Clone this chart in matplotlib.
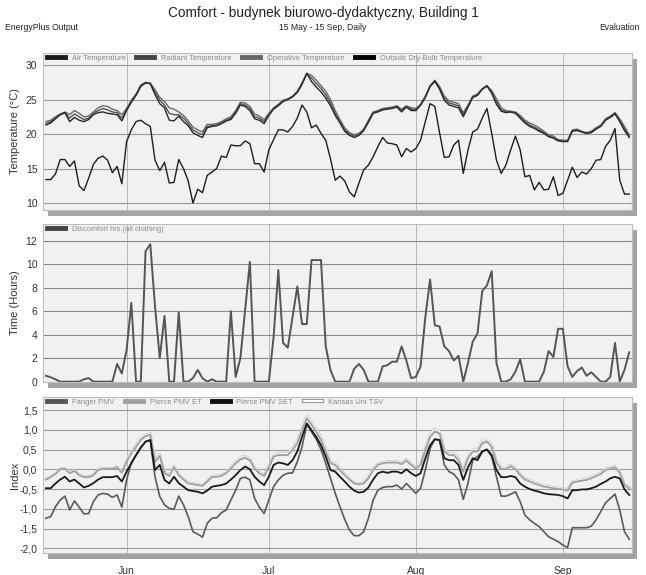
import numpy as np
import pandas as pd
import matplotlib
matplotlib.use("Agg")
import matplotlib.pyplot as plt
from matplotlib.lines import Line2D
from matplotlib.patches import Rectangle
from matplotlib.legend_handler import HandlerTuple
from matplotlib import font_manager

# pick a narrow face if there is one, the original chart text is condensed
narrow = 'Liberation Sans'
try:
    font_manager.findfont('Liberation Sans Narrow', fallback_to_default=False)
    narrow = 'Liberation Sans Narrow'
except Exception:
    pass
plt.rcParams['font.family'] = [narrow, 'Liberation Sans', 'DejaVu Sans']

dates = pd.date_range('2023-05-15', '2023-09-15', freq='D')
month_ticks = pd.to_datetime(['2023-06-01', '2023-07-01', '2023-08-01', '2023-09-01'])
month_labels = ['Jun', 'Jul', 'Aug', 'Sep']

# temperatures (C)
air_temp = [21.3,21.6,22.2,22.8,23.1,21.8,22.4,22.0,21.8,22.1,
            22.8,23.1,23.2,23.0,22.9,22.8,21.9,23.4,24.6,25.6,
            26.9,27.4,27.3,25.7,24.4,23.8,22.0,21.9,22.6,21.8,
            21.2,20.2,19.8,19.5,20.9,21.1,21.2,21.5,21.9,22.1,
            23.0,24.2,24.0,23.4,22.2,22.0,21.5,22.7,23.6,24.1,
            24.7,25.0,25.4,26.0,27.2,28.8,27.6,26.8,26.1,25.2,
            24.1,22.7,21.6,20.4,19.8,19.5,19.8,20.5,21.7,23.0,
            23.2,23.5,23.6,23.7,23.9,23.2,23.9,23.4,23.4,24.2,
            25.3,26.9,27.7,26.5,24.9,24.2,24.0,23.8,22.5,23.9,
            25.3,25.6,26.5,27.0,25.9,24.3,23.3,23.1,23.2,23.0,
            22.3,21.6,21.1,20.8,20.4,20.1,19.6,19.4,19.0,18.9,
            18.9,20.4,20.5,20.3,20.1,20.2,20.7,21.1,22.0,22.4,
            22.9,21.8,20.5,19.5]
radiant_temp = [21.8,22.0,22.5,22.9,23.2,22.8,23.4,23.0,22.5,22.6,
                23.2,23.8,24.1,24.0,23.6,23.4,22.8,23.7,24.9,25.8,
                27.1,27.5,27.4,26.4,25.3,24.7,23.8,23.6,23.2,22.7,
                21.9,21.0,20.6,20.3,21.4,21.4,21.5,21.8,22.2,22.5,
                23.4,24.6,24.5,24.0,22.9,22.6,22.1,23.0,23.8,24.3,
                24.9,25.1,25.5,26.2,27.4,28.8,28.5,27.8,27.0,26.2,
                25.0,23.4,22.1,20.9,20.2,19.9,20.1,20.7,22.0,23.2,
                23.4,23.7,23.8,23.9,24.1,23.6,24.1,23.8,23.7,24.3,
                25.5,27.0,27.8,26.9,25.5,24.8,24.6,24.4,23.1,24.2,
                25.5,25.8,26.6,27.0,26.3,25.1,23.8,23.4,23.3,23.2,
                22.7,22.0,21.6,21.3,20.9,20.4,19.9,19.7,19.2,19.1,
                19.1,20.6,20.7,20.4,20.2,20.4,20.9,21.3,22.2,22.6,
                23.1,22.2,21.1,19.9]
operative_temp = [21.5,21.8,22.3,22.8,23.1,22.3,22.9,22.5,22.1,22.3,
                  23.0,23.4,23.7,23.5,23.2,23.1,22.3,23.5,24.7,25.7,
                  27.0,27.4,27.3,26.1,24.9,24.2,23.0,22.8,22.8,22.3,
                  21.5,20.6,20.2,19.9,21.1,21.2,21.3,21.6,22.0,22.3,
                  23.2,24.4,24.2,23.7,22.5,22.3,21.8,22.8,23.7,24.2,
                  24.8,25.0,25.4,26.1,27.3,28.7,28.1,27.3,26.6,25.7,
                  24.5,23.0,21.8,20.6,20.0,19.7,19.9,20.6,21.8,23.1,
                  23.3,23.6,23.7,23.8,24.0,23.4,24.0,23.6,23.5,24.2,
                  25.4,26.9,27.6,26.6,25.2,24.5,24.3,24.1,22.8,24.0,
                  25.4,25.7,26.5,26.9,26.1,24.7,23.5,23.2,23.2,23.1,
                  22.5,21.8,21.3,21.0,20.6,20.2,19.7,19.5,19.1,19.0,
                  19.0,20.5,20.6,20.3,20.1,20.3,20.8,21.2,22.1,22.5,
                  23.0,22.0,20.8,19.7]
outside_temp = [13.4,13.4,14.2,16.3,16.3,15.3,16.1,12.5,11.8,13.6,
                15.6,16.5,16.8,16.2,14.4,15.3,12.8,18.9,20.6,21.8,
                22.0,21.5,21.1,16.2,14.7,15.9,12.9,13.0,16.3,15.0,
                13.2,10.0,12.0,11.5,14.0,14.5,15.0,16.8,16.6,18.4,
                18.3,18.3,19.0,18.6,15.7,15.7,14.5,17.7,19.2,20.6,
                20.6,20.3,21.1,22.3,24.2,23.2,20.9,21.3,20.1,19.1,
                16.4,13.3,13.9,13.2,11.6,10.9,12.9,14.8,15.5,16.7,
                18.2,19.5,18.7,18.6,18.4,16.7,17.9,17.4,17.9,19.1,
                21.8,24.4,24.0,20.2,16.6,16.7,18.4,19.1,14.3,17.7,
                20.3,20.7,22.3,23.7,20.1,16.2,14.3,15.5,17.7,19.7,
                17.7,13.8,14.0,11.9,13.0,11.9,12.0,13.8,11.1,11.4,
                13.3,15.2,13.7,14.5,14.2,15.0,16.2,16.3,18.2,19.1,
                20.8,13.3,11.3,11.3]

# discomfort hours
discomfort = [0.5,0.37,0.2,0,0,0,0,0,0.2,0.3,
              0,0,0,0,0,1.5,0.7,2.7,6.7,0,
              0,11.1,11.7,6.4,2.0,5.6,0,0,5.9,0,
              0,0.3,1.0,0.3,0,0.2,0,0,0,6.0,
              0.4,2.0,6.1,10.2,0,0,0,0,3.8,9.5,
              3.3,2.9,5.5,8.1,4.9,4.9,10.35,10.35,10.35,3.0,
              1.0,0,0,0,0,1.1,1.5,1.0,0,0,
              0,1.3,1.4,1.7,1.7,3.0,1.8,0.3,0.4,1.3,
              5.5,8.7,4.8,4.7,3.0,2.6,1.8,2.2,0,1.6,
              3.4,4.1,7.7,8.2,9.4,1.6,0,0,0.2,0.85,
              1.9,0,0,0,0,0.85,2.6,2.1,4.5,4.5,
              1.3,0.4,0.9,1.2,0.5,0.8,0.4,0,0,0.4,
              3.3,0,1.0,2.5]

# comfort indices
fanger_pmv = [-1.24,-1.2,-0.95,-0.78,-0.68,-1.03,-0.8,-0.96,-1.13,-1.12,
              -0.82,-0.65,-0.61,-0.63,-0.71,-0.65,-0.96,-0.27,0.17,0.36,
              0.55,0.7,0.74,-0.19,-0.69,-0.9,-0.99,-1.01,-0.68,-0.9,
              -1.2,-1.58,-1.64,-1.72,-1.37,-1.24,-1.23,-1.1,-1.03,-0.78,
              -0.53,-0.23,-0.2,-0.27,-0.74,-0.96,-1.12,-0.78,-0.44,-0.27,
              -0.15,-0.1,-0.09,0.19,0.57,1.14,0.95,0.76,0.5,0.15,
              -0.23,-0.61,-0.95,-1.27,-1.54,-1.68,-1.68,-1.58,-1.24,-0.78,
              -0.53,-0.46,-0.44,-0.44,-0.4,-0.5,-0.36,-0.48,-0.61,-0.48,
              -0.02,0.53,0.76,0.74,0.11,-0.06,-0.12,-0.27,-0.76,-0.35,
              0.23,0.32,0.45,0.5,0.32,-0.19,-0.68,-0.68,-0.63,-0.57,
              -0.82,-1.16,-1.28,-1.37,-1.45,-1.58,-1.71,-1.77,-1.83,-1.92,
              -1.98,-1.48,-1.48,-1.48,-1.48,-1.44,-1.28,-1.07,-0.85,-0.74,
              -0.63,-1.03,-1.58,-1.77]
pierce_et = [-0.26,-0.2,-0.12,0.0,0.01,-0.1,-0.04,-0.15,-0.2,-0.2,
             -0.15,-0.02,0.01,0.01,0.01,0.05,-0.09,0.19,0.4,0.57,
             0.74,0.84,0.87,0.19,0.34,-0.1,-0.17,0.05,-0.15,-0.26,
             -0.36,-0.38,-0.4,-0.42,-0.31,-0.2,-0.19,-0.17,-0.1,0.02,
             0.15,0.25,0.29,0.23,0.02,-0.1,-0.17,0.05,0.32,0.36,
             0.36,0.36,0.49,0.66,0.99,1.29,1.12,0.95,0.74,0.45,
             0.15,0.11,-0.02,-0.15,-0.26,-0.36,-0.38,-0.36,-0.23,-0.02,
             0.11,0.15,0.17,0.17,0.17,0.13,0.22,0.11,0.02,0.11,
             0.49,0.82,0.95,0.91,0.45,0.36,0.36,0.23,-0.06,0.28,
             0.45,0.45,0.66,0.7,0.57,0.17,0.0,0.0,0.08,0.0,
             -0.15,-0.26,-0.31,-0.36,-0.4,-0.44,-0.46,-0.48,-0.5,-0.51,
             -0.54,-0.34,-0.31,-0.29,-0.27,-0.23,-0.17,-0.12,-0.02,0.02,
             0.05,-0.09,-0.4,-0.48]
pierce_set = [-0.48,-0.48,-0.36,-0.26,-0.19,-0.31,-0.26,-0.36,-0.46,-0.42,
              -0.35,-0.26,-0.2,-0.2,-0.2,-0.17,-0.31,-0.06,0.15,0.36,
              0.55,0.7,0.74,-0.02,0.11,-0.27,-0.36,-0.19,-0.35,-0.44,
              -0.53,-0.55,-0.57,-0.61,-0.54,-0.44,-0.42,-0.4,-0.36,-0.26,
              -0.15,-0.02,0.07,0.0,-0.19,-0.31,-0.4,-0.19,0.11,0.17,
              0.15,0.11,0.23,0.45,0.82,1.16,0.99,0.82,0.61,0.32,
              -0.02,-0.06,-0.19,-0.31,-0.44,-0.54,-0.59,-0.57,-0.46,-0.26,
              -0.1,-0.06,-0.09,-0.06,-0.06,-0.1,0.0,-0.1,-0.17,-0.1,
              0.28,0.61,0.76,0.74,0.28,0.23,0.23,0.11,-0.27,0.05,
              0.28,0.23,0.45,0.5,0.36,-0.02,-0.2,-0.2,-0.17,-0.2,
              -0.36,-0.44,-0.5,-0.54,-0.57,-0.61,-0.63,-0.64,-0.65,-0.68,
              -0.74,-0.53,-0.53,-0.51,-0.51,-0.48,-0.44,-0.37,-0.31,-0.23,
              -0.19,-0.23,-0.51,-0.65]
kansas_tsv = [-0.24,-0.18,-0.1,0.02,0.03,-0.08,-0.02,-0.13,-0.18,-0.18,
              -0.13,0.0,0.03,0.03,0.03,0.07,-0.07,0.22,0.44,0.62,
              0.79,0.88,0.91,0.24,0.38,-0.06,-0.13,0.08,-0.12,-0.23,
              -0.33,-0.36,-0.38,-0.4,-0.29,-0.18,-0.17,-0.15,-0.08,0.05,
              0.19,0.3,0.34,0.27,0.05,-0.07,-0.14,0.08,0.36,0.4,
              0.4,0.4,0.54,0.72,1.05,1.35,1.2,1.02,0.82,0.52,
              0.2,0.15,0.02,-0.12,-0.23,-0.33,-0.36,-0.33,-0.2,0.02,
              0.14,0.18,0.2,0.2,0.2,0.16,0.25,0.14,0.05,0.15,
              0.55,0.9,1.01,0.97,0.5,0.4,0.4,0.27,-0.02,0.32,
              0.5,0.5,0.72,0.76,0.63,0.21,0.03,0.03,0.11,0.03,
              -0.12,-0.23,-0.28,-0.33,-0.37,-0.41,-0.43,-0.45,-0.47,-0.48,
              -0.51,-0.31,-0.28,-0.26,-0.24,-0.2,-0.14,-0.09,0.01,0.05,
              0.08,-0.06,-0.37,-0.45]

W, H = 646, 575
fig = plt.figure(figsize=(W / 100, H / 100), dpi=100)

LEFT, RIGHT = 43, 632

def px_axes(top, bottom):
    rect = [LEFT / W, 1 - bottom / H, (RIGHT - LEFT) / W, (bottom - top) / H]
    # drop shadow behind the panel
    sh = Rectangle(((LEFT + 5) / W, 1 - (bottom + 6) / H), (RIGHT - LEFT) / W, (bottom - top) / H,
                   transform=fig.transFigure, facecolor='#a3a3a3', edgecolor='none', zorder=-5)
    fig.patches.append(sh)
    ax = fig.add_axes(rect)
    ax.set_facecolor('#f1f1f1')
    for s in ax.spines.values():
        s.set_color('#bdbdbd')
        s.set_linewidth(0.8)
    ax.set_xlim(dates[0] - pd.Timedelta(hours=15), dates[-1] + pd.Timedelta(hours=14))
    ax.set_xticks(month_ticks)
    ax.tick_params(length=0, labelsize=7.5, colors='#333333', pad=4)
    for m in month_ticks:
        ax.axvline(m, color='#b8b8b8', lw=0.7, zorder=1)
    return ax

def set_ylabel(ax, text):
    ax.set_ylabel(text, family='Liberation Sans', fontsize=8, color='#333333')
    ax.yaxis.set_label_coords((20 - LEFT) / (RIGHT - LEFT), 0.5)

leg_kw = dict(loc='upper left', bbox_to_anchor=(0.0, 1.015), frameon=False, fontsize=5.4,
              handlelength=2.4, handletextpad=0.9, columnspacing=1.4, borderaxespad=0.15)

def grey_texts(leg):
    for t in leg.get_texts():
        t.set_color('#8a8a8a')

# ---- panel 1: temperatures
ax1 = px_axes(53, 210)
ax1.set_ylim(8.99, 31.74)
ax1.set_yticks([10, 15, 20, 25, 30])
for yv in [10, 15, 20, 25, 30]:
    ax1.axhline(yv, color='#9a9a9a', lw=0.8, zorder=1)
ax1.plot(dates, radiant_temp, color='#6a6a6a', lw=1.0, zorder=3)
ax1.plot(dates, operative_temp, color='#555555', lw=1.0, zorder=3)
ax1.plot(dates, air_temp, color='#2a2a2a', lw=1.0, zorder=3)
ax1.plot(dates, outside_temp, color='#1e1e1e', lw=1.0, zorder=3)
ax1.set_xticklabels([])
set_ylabel(ax1, 'Temperature (°C)')
grey_texts(ax1.legend([Line2D([], [], color='#1a1a1a', lw=3.5), Line2D([], [], color='#444444', lw=3.5),
                       Line2D([], [], color='#666666', lw=3.5), Line2D([], [], color='#000000', lw=3.5)],
                      ['Air Temperature', 'Radiant Temperature', 'Operative Temperature',
                       'Outside Dry-Bulb Temperature'], ncol=4, **leg_kw))

# ---- panel 2: discomfort hours
ax2 = px_axes(224, 382)
ax2.set_ylim(-0.03, 13.42)
ax2.set_yticks(range(0, 13, 2))
for yv in range(0, 13, 2):
    ax2.axhline(yv, color='#8a8a8a', lw=0.8, zorder=1)
ax2.plot(dates, discomfort, color='#555555', lw=1.4, zorder=3)
ax2.set_xticklabels([])
set_ylabel(ax2, 'Time (Hours)')
grey_texts(ax2.legend([Line2D([], [], color='#444444', lw=3.5)], ['Discomfort hrs (all clothing)'],
                      ncol=1, **leg_kw))

# ---- panel 3: comfort indices
ax3 = px_axes(397, 553)
ax3.set_ylim(-2.12, 1.83)
idx_ticks = [-2.0, -1.5, -1.0, -0.5, 0.0, 0.5, 1.0, 1.5]
ax3.set_yticks(idx_ticks)
ax3.set_yticklabels([('%.1f' % v).replace('.', ',') for v in idx_ticks])
for yv in idx_ticks:
    ax3.axhline(yv, color='#9a9a9a', lw=0.8, zorder=1)
ax3.plot(dates, kansas_tsv, color='#c6c6c6', lw=1.7, zorder=2)
ax3.plot(dates, kansas_tsv, color='#fafafa', lw=0.7, zorder=2)
ax3.plot(dates, pierce_et, color='#a0a0a0', lw=1.3, zorder=3)
ax3.plot(dates, fanger_pmv, color='#5a5a5a', lw=1.2, zorder=3)
ax3.plot(dates, pierce_set, color='#1a1a1a', lw=1.3, zorder=4)
ax3.set_xticklabels(month_labels)
ax3.tick_params(axis='x', pad=9)
set_ylabel(ax3, 'Index')
tsv_handle = (Line2D([], [], color='#9a9a9a', lw=3.0), Line2D([], [], color='white', lw=1.4))
grey_texts(ax3.legend([Line2D([], [], color='#555555', lw=3.5), Line2D([], [], color='#a0a0a0', lw=3.5),
                       Line2D([], [], color='#111111', lw=3.5), tsv_handle],
                      ['Fanger PMV', 'Pierce PMV ET', 'Pierce PMV SET', 'Kansas Uni TSV'],
                      handler_map={tuple: HandlerTuple(ndivide=1, pad=0)}, ncol=4, **leg_kw))

# header texts
fig.text(0.5, 1 - 13 / H, 'Comfort - budynek biurowo-dydaktyczny, Building 1', ha='center', va='center',
         fontsize=9.8, color='#222222')
fig.text(5 / W, 1 - 28 / H, 'EnergyPlus Output', ha='left', va='center', fontsize=6.2, color='#222222')
fig.text(0.5, 1 - 28 / H, '15 May - 15 Sep, Daily', ha='center', va='center', fontsize=6.2, color='#222222')
fig.text(640 / W, 1 - 28 / H, 'Evaluation', ha='right', va='center', fontsize=6.2, color='#222222')

fig.savefig('out.png', dpi=100, facecolor='white')
